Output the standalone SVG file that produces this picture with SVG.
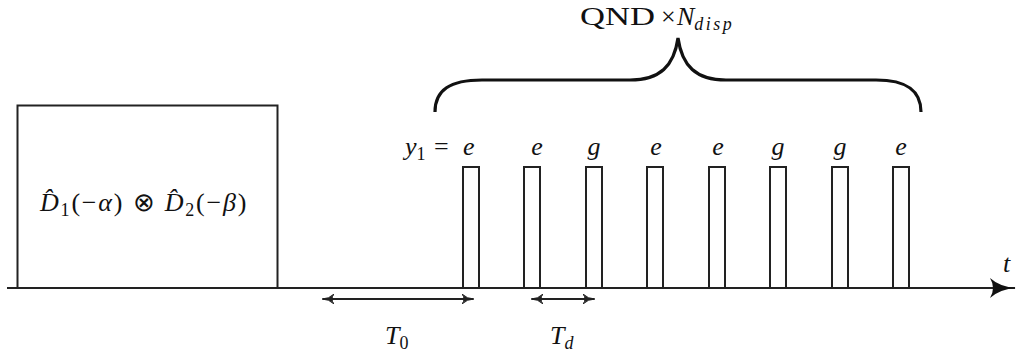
<svg xmlns="http://www.w3.org/2000/svg" width="1018" height="354" viewBox="0 0 1018 354">
<style>
.ln{stroke:#222;stroke-width:2;fill:none}
.m{font-family:"Liberation Serif",serif;font-style:italic;font-size:26px;fill:#111}
.r{font-family:"Liberation Serif",serif;font-style:normal;font-size:26px;fill:#111}
.s{font-size:18px}
</style>
<defs>
<marker id="ah" viewBox="0 0 12 10" refX="11" refY="5" markerWidth="12" markerHeight="10" markerUnits="userSpaceOnUse" orient="auto-start-reverse">
<path d="M0,0 Q5,5 12,5 Q5,5 0,10 Q4,5 0,0 Z" fill="#222" stroke="#222" stroke-width="1"/>
</marker>
<marker id="bh" viewBox="0 0 26 20" refX="25" refY="10" markerWidth="26" markerHeight="20" markerUnits="userSpaceOnUse" orient="auto">
<path d="M0,0 Q10,9 26,10 Q10,11 0,20 Q6,10 0,0 Z" fill="#111"/>
</marker>
</defs>
<g id="axis">
<line class="ln" x1="7" y1="288" x2="1015" y2="288" marker-end="url(#bh)"/>
<text class="m" x="1003" y="272">t</text>
</g>
<g id="box">
<rect class="ln" x="17.5" y="105.5" width="260" height="182.5"/>
<text class="m" x="40" y="211" style="letter-spacing:1.8px">D̂<tspan class="r s" dy="5">1</tspan><tspan class="r" dy="-5">(−</tspan>α<tspan class="r">) ⊗ </tspan>D̂<tspan class="r s" dy="5">2</tspan><tspan class="r" dy="-5">(−</tspan>β<tspan class="r">)</tspan></text>
</g>
<g id="pulses">
<rect class="ln" x="463" y="167" width="16" height="121"/>
<rect class="ln" x="524" y="167" width="16" height="121"/>
<rect class="ln" x="586" y="167" width="16" height="121"/>
<rect class="ln" x="647" y="167" width="16" height="121"/>
<rect class="ln" x="709" y="167" width="16" height="121"/>
<rect class="ln" x="770" y="167" width="16" height="121"/>
<rect class="ln" x="832" y="167" width="16" height="121"/>
<rect class="ln" x="893" y="167" width="16" height="121"/>
</g>
<g id="labels">
<text class="m" x="405" y="155">y<tspan class="r s" dy="5">1</tspan><tspan class="r" dy="-5" x="434">=</tspan><tspan x="463">e</tspan></text>
<text class="m" x="537" y="155" text-anchor="middle">e</text>
<text class="m" x="594" y="155" text-anchor="middle">g</text>
<text class="m" x="656" y="155" text-anchor="middle">e</text>
<text class="m" x="718" y="155" text-anchor="middle">e</text>
<text class="m" x="778" y="155" text-anchor="middle">g</text>
<text class="m" x="840" y="155" text-anchor="middle">g</text>
<text class="m" x="901" y="155" text-anchor="middle">e</text>
</g>
<g id="brace">
<path d="M435,112 C435,90 450,80 482,80 L630,80 C660,80 674,66 678,38 C682,66 696,80 726,80 L876,80 C906,80 921,90 921,112" fill="none" stroke="#111" stroke-width="3.2"/>
<text class="r" x="580" y="25" textLength="75" lengthAdjust="spacingAndGlyphs">QND</text>
<text class="r" x="661" y="25">×<tspan class="m" x="677">N</tspan><tspan class="m s" dy="5" style="letter-spacing:2.5px">disp</tspan></text>
</g>
<g id="connectors">
<line class="ln" x1="323" y1="299" x2="473" y2="299" marker-start="url(#ah)" marker-end="url(#ah)"/>
<line class="ln" x1="532" y1="299" x2="594" y2="299" marker-start="url(#ah)" marker-end="url(#ah)"/>
</g>
<g id="durations">
<text class="m" x="385" y="344">T<tspan class="r s" dy="5">0</tspan></text>
<text class="m" x="550" y="344">T<tspan class="m s" dy="5">d</tspan></text>
</g>
</svg>
